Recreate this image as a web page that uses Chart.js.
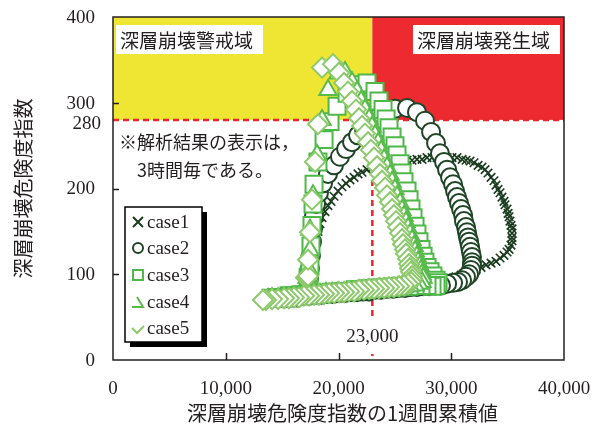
<!DOCTYPE html>
<html lang="ja">
<head>
<meta charset="utf-8">
<title>深層崩壊危険度指数</title>
<script src="https://cdn.jsdelivr.net/npm/chart.js@4.4.1/dist/chart.umd.min.js"></script>
<style>
  html, body { margin: 0; padding: 0; background: #fff; }
  #chart { display: block; }
</style>
</head>
<body>
<canvas id="chart" width="598" height="432"></canvas>
<script>
// 3-hourly results: x = 1-week cumulative of the index, y = index
var case1X = [17300, 17390, 17470, 17650, 17830, 18010, 18180, 18360, 18540, 18800,
    19070, 19340, 19600, 19960, 20310, 20670, 21020, 21380, 21730, 22090,
    22530, 22970, 23420, 23860, 24300, 24750, 25190, 25630, 26080, 26520,
    26960, 27410, 27850, 28300, 28740, 29180, 29630, 30070, 30510, 30960,
    31310, 31670, 32020, 32380, 32730, 33000, 33260, 33530, 33790, 33970,
    34150, 34330, 34500, 34680, 34770, 34950, 35040, 35130, 35210, 35300,
    35390, 35390, 35390, 35390, 35300, 35130, 34950, 34680, 34330, 33970,
    33530, 33090, 32640, 32200, 31750, 31310, 30870, 30420, 29980, 29540,
    29090, 28650, 28210, 27760, 27230, 26700, 26170, 25630, 25100, 24570,
    24040, 23510, 22970, 22440, 21910, 21380, 20840, 20310, 19780, 19250,
    18720, 18180, 17650, 17120, 16590, 16050, 15520];
var case1Y = [93, 94, 107, 122, 134, 142, 150, 159, 166, 173,
    180, 185, 191, 197, 202, 206, 210, 213, 217, 219,
    222, 224, 226, 227, 229, 230, 231, 232, 233, 233,
    234, 234, 236, 236, 236, 236, 236, 236, 236, 234,
    233, 232, 230, 227, 225, 222, 218, 213, 209, 204,
    199, 195, 190, 185, 181, 176, 171, 167, 162, 157,
    153, 148, 143, 139, 134, 129, 126, 122, 119, 115,
    113, 111, 108, 106, 104, 101, 99, 97, 94, 93,
    92, 91, 90, 89, 87, 86, 86, 85, 85, 84,
    84, 83, 83, 82, 82, 80, 80, 79, 79, 78,
    78, 77, 77, 76, 76, 75, 75];

var case2X = [17300, 17390, 17470, 17560, 17650, 17740, 17830, 18010, 18270, 18630,
    19070, 19600, 20130, 20670, 21200, 21730, 22260, 22800, 23420, 24130,
    25010, 26080, 26960, 27670, 28210, 28650, 29000, 29360, 29630,
    29890, 30160, 30340, 30510, 30690, 30870, 31050, 31130, 31310, 31400,
    31490, 31580, 31670, 31750, 31840, 31840, 31840, 31750, 31580, 31310,
    30960, 30600, 30160, 29630, 29090, 28560, 28030, 27500, 26960, 26430,
    25900, 25370, 24840, 24300, 23770, 23240, 22710, 22180, 21640, 21110,
    20580, 20050, 19510, 18980, 18450, 17920, 17390, 16850, 16320, 15790,
    15260, 14720];
var case2Y = [94, 96, 107, 122, 138, 153, 168, 182, 195, 206,
    217, 227, 237, 246, 254, 262, 269, 276, 282, 288,
    293, 294, 289, 279, 266, 253, 241, 231, 222,
    213, 205, 197, 190, 183, 176, 169, 162, 155, 149,
    143, 138, 132, 126, 120, 114, 110, 105, 100, 97,
    93, 91, 90, 89, 87, 87, 86, 86, 85, 85,
    84, 84, 83, 83, 82, 82, 80, 80, 79, 79,
    78, 78, 77, 77, 76, 76, 75, 75, 73, 73,
    72, 72];

var case3X = [17300, 17390,
    17470, 17560, 17650, 17740, 17830, 18180, 18720, 19250, 19870, 20760, 21730, 22530,
    23240, 23590, 23950, 24220, 24480, 24750, 25010, 25190, 25460, 25630,
    25810, 26080, 26260, 26430, 26610, 26790, 26960, 27140, 27320, 27500,
    27670, 27850, 28120, 28380, 28650, 28830, 28650, 28300,
    27850, 27320, 26790, 26260, 25720, 25190, 24660, 24130, 23590, 23060,
    22530, 22000, 21470, 20930, 20400, 19870, 19340, 18800, 18270, 17740,
    17210, 16680, 16140, 15610, 15080, 14550, 14010];
var case3Y = [96, 98,
    110, 133, 157, 182, 205, 231, 257, 278, 296, 311, 321, 323,
    313, 302, 292, 281, 271, 260, 250, 239, 229, 218,
    208, 197, 187, 176, 166, 156, 147, 138, 129, 121,
    114, 108, 103, 98, 93, 90, 87, 86,
    87, 87, 87, 86, 86, 85, 85, 84, 84, 83,
    83, 82, 82, 80, 80, 79, 79, 78, 77, 77,
    76, 76, 75, 75, 73, 73, 72];

var case4X = [17210, 17300,
    17390, 17470, 17470, 17740, 18100, 18540, 19070, 19960, 20580,
    21200, 21640, 22000, 22350, 22710, 22970, 23240, 23510, 23770, 24040,
    24300, 24570, 24750, 25010, 25190, 25460, 25630, 25810, 25990, 26170,
    26340, 26520, 26700, 26790, 26960, 27050, 27230, 27320, 27410, 27500,
    27410, 27140, 26790,
    26340, 25810, 25280, 24750, 24220, 23680, 23150, 22620, 22090, 21550,
    21020, 20490, 19960, 19430, 18890, 18360, 17830, 17300, 16760, 16230,
    15700, 15170, 14640, 14100, 13750];
var case4Y = [96, 97,
    105, 128, 152, 192, 239, 280, 315, 334, 336,
    324, 313, 302, 292, 281, 272, 262, 253, 244, 234,
    225, 216, 208, 199, 191, 183, 175, 168, 161, 154,
    147, 140, 133, 127, 121, 115, 110, 105, 100, 96,
    91, 89, 87,
    86, 85, 85, 84, 83, 83, 82, 82, 81, 80,
    80, 79, 79, 78, 78, 77, 76, 76, 74, 74,
    73, 73, 72, 72, 71];

var case5X = [17120, 17210, 17300,
    17300, 17470, 17650, 17920, 18180, 18540, 19510,
    20050, 20490, 20840, 21200, 21550, 21820, 22090, 22350, 22620, 22880,
    23150, 23420, 23680, 23860, 24130, 24300, 24570, 24750, 24920, 25100,
    25280, 25460, 25630, 25720, 25900, 25990, 26170, 26260, 26340, 26430,
    26520, 26520, 26430, 26170, 25810,
    25370, 24920, 24480, 24040, 23590, 23150, 22710, 22260, 21820, 21380,
    20930, 20490, 20050, 19600, 19160, 18720, 18270, 17830, 17390, 16940,
    16500, 16050, 15610, 15170, 14640, 14100, 13570, 13300];
var case5Y = [96, 97, 98,
    117, 149, 187, 231, 275, 341, 345,
    335, 323, 313, 302, 292, 282, 273, 264, 254, 245,
    236, 226, 217, 209, 201, 192, 184, 176, 169, 162,
    155, 148, 141, 135, 129, 124, 118, 112, 107, 103,
    98, 94, 91, 89, 87,
    86, 85, 85, 84, 84, 83, 83, 82, 82, 80,
    80, 79, 79, 78, 78, 77, 76, 76, 75, 75,
    73, 73, 72, 72, 71, 71, 70, 70];

var caseNames = ['case1', 'case2', 'case3', 'case4', 'case5'];
var xTicks = [0, 10000, 20000, 30000, 40000];
var yTicks = [0, 100, 200, 300, 400];
var indexLimit = 280;
var cumulativeLimit = 23000;

var INK = '#231f20';
var SERIF = 'Liberation Serif';
var GOTHIC = 'Noto Sans CJK JP';
var caseColors = ['#1b3b1f', '#1f4426', '#4db848', '#58bb4c', '#8cc96b'];

function toPoints(xs, ys) {
    var pts = [];
    for (var i = 0; i < xs.length; i++) {
        pts.push({ x: xs[i], y: ys[i] });
    }
    return pts;
}

function labelBox(ctx, text, x, y, w, h) {
    ctx.fillStyle = '#fff';
    ctx.fillRect(x, y, w, h);
    ctx.fillStyle = INK;
    ctx.font = '19px "' + GOTHIC + '"';
    ctx.textAlign = 'left';
    ctx.textBaseline = 'middle';
    ctx.fillText(text, x + 4, y + h / 2 + 1);
}

function drawLegend(ctx) {
    var bx = 125, by = 207, bw = 77, bh = 135;
    ctx.fillStyle = '#000';
    ctx.fillRect(bx + 5, by + 5, bw, bh);
    ctx.fillStyle = '#fff';
    ctx.fillRect(bx, by, bw, bh);
    ctx.strokeStyle = '#000';
    ctx.lineWidth = 1.5;
    ctx.strokeRect(bx, by, bw, bh);

    var rows = [222, 248, 275, 302, 328];
    var mx = 138;
    for (var i = 0; i < caseNames.length; i++) {
        var my = rows[i];
        ctx.strokeStyle = caseColors[i];
        ctx.fillStyle = '#fff';
        ctx.lineWidth = 2;
        ctx.setLineDash([]);
        if (i === 0) {
            Chart.helpers.drawPoint(ctx, { pointStyle: 'crossRot', radius: 7, borderWidth: 2, rotation: 0 }, mx, my);
        } else if (i === 1) {
            Chart.helpers.drawPoint(ctx, { pointStyle: 'circle', radius: 5, borderWidth: 2, rotation: 0 }, mx, my);
        } else if (i === 2) {
            Chart.helpers.drawPoint(ctx, { pointStyle: 'rect', radius: 7, borderWidth: 2, rotation: 0 }, mx, my);
        } else if (i === 3) {
            // only the right edge and base of the triangle show in the key
            ctx.beginPath();
            ctx.moveTo(mx - 1, my - 5);
            ctx.lineTo(mx + 5, my + 5);
            ctx.lineTo(mx - 6, my + 5);
            ctx.stroke();
        } else {
            ctx.beginPath();
            ctx.moveTo(mx - 6, my);
            ctx.lineTo(mx - 1, my + 5);
            ctx.lineTo(mx + 6, my - 2);
            ctx.stroke();
        }
        ctx.fillStyle = INK;
        ctx.font = '19px "' + SERIF + '"';
        ctx.textAlign = 'left';
        ctx.textBaseline = 'middle';
        ctx.fillText(caseNames[i], 147, my + 1);
    }
}

var zonePlugin = {
    id: 'zones',
    beforeDatasetsDraw: function (chart) {
        var ctx = chart.ctx;
        var a = chart.chartArea;
        var xl = chart.scales.x.getPixelForValue(cumulativeLimit);
        var yl = chart.scales.y.getPixelForValue(indexLimit);
        ctx.save();
        ctx.fillStyle = '#efe533';
        ctx.fillRect(a.left, a.top, xl - a.left, yl - a.top);
        ctx.fillStyle = '#ec2a2f';
        ctx.fillRect(xl, a.top, a.right - xl, yl - a.top);

        ctx.strokeStyle = '#e8262c';
        ctx.lineWidth = 2.5;
        ctx.setLineDash([6, 4]);
        ctx.beginPath();
        ctx.moveTo(a.left, yl);
        ctx.lineTo(a.right, yl);
        ctx.moveTo(xl, yl);
        ctx.lineTo(xl, a.bottom);
        ctx.stroke();
        ctx.restore();
    },
    afterDatasetsDraw: function (chart) {
        var ctx = chart.ctx;
        var a = chart.chartArea;
        var sx = chart.scales.x, sy = chart.scales.y;
        var xl = sx.getPixelForValue(cumulativeLimit);
        var yl = sy.getPixelForValue(indexLimit);
        ctx.save();

        // frame and inward ticks
        ctx.strokeStyle = INK;
        ctx.lineWidth = 1.5;
        ctx.strokeRect(a.left, a.top, a.right - a.left, a.bottom - a.top);
        ctx.beginPath();
        for (var i = 1; i < xTicks.length - 1; i++) {
            var px = Math.round(sx.getPixelForValue(xTicks[i])) + 0.5;
            ctx.moveTo(px, a.bottom);
            ctx.lineTo(px, a.bottom - 7);
        }
        for (var j = 1; j < yTicks.length - 1; j++) {
            var py = Math.round(sy.getPixelForValue(yTicks[j])) + 0.5;
            ctx.moveTo(a.left, py);
            ctx.lineTo(a.left + 6, py);
        }
        ctx.stroke();

        // tick labels
        ctx.fillStyle = INK;
        ctx.font = '19px "' + SERIF + '"';
        ctx.textBaseline = 'middle';
        ctx.textAlign = 'center';
        xTicks.forEach(function (v) {
            ctx.fillText(v.toLocaleString('en-US'), sx.getPixelForValue(v), a.bottom + 29);
        });
        ctx.textAlign = 'right';
        yTicks.forEach(function (v) {
            ctx.fillText(String(v), a.left - 18, sy.getPixelForValue(v) + 1);
        });
        ctx.fillText(String(indexLimit), a.left - 12, yl + 4);

        labelBox(ctx, '深層崩壊警戒域', 116, 25, 147, 29);
        labelBox(ctx, '深層崩壊発生域', 413, 25, 147, 29);

        ctx.fillStyle = INK;
        ctx.font = '18px "' + GOTHIC + '"';
        ctx.textAlign = 'left';
        ctx.textBaseline = 'middle';
        ctx.fillText('※解析結果の表示は，', 119, 142);
        ctx.fillText('3時間毎である。', 137, 170);

        // value of the cumulative threshold, over the dashed line
        ctx.fillStyle = '#fff';
        ctx.fillRect(xl - 27, 320, 54, 34);
        ctx.fillStyle = INK;
        ctx.font = '19px "' + SERIF + '"';
        ctx.textAlign = 'center';
        ctx.fillText(cumulativeLimit.toLocaleString('en-US'), xl, 337);

        // axis titles
        ctx.font = '20px "' + GOTHIC + '"';
        ctx.textAlign = 'center';
        ctx.fillText('深層崩壊危険度指数の1週間累積値', (a.left + a.right) / 2 + 4, 413);
        ctx.save();
        ctx.translate(23, (a.top + a.bottom) / 2);
        ctx.rotate(-Math.PI / 2);
        ctx.fillText('深層崩壊危険度指数', 0, 0);
        ctx.restore();

        drawLegend(ctx);
        ctx.restore();
    }
};

var ctx = document.getElementById('chart').getContext('2d');

new Chart(ctx, {
    type: 'scatter',
    data: {
        datasets: [
            {
                label: caseNames[0],
                data: toPoints(case1X, case1Y),
                pointStyle: 'crossRot',
                pointRadius: 6,
                pointBorderWidth: 1.6,
                borderColor: caseColors[0],
                backgroundColor: caseColors[0],
                order: 5
            },
            {
                label: caseNames[1],
                data: toPoints(case2X, case2Y),
                pointStyle: 'circle',
                pointRadius: 9,
                pointBorderWidth: 2,
                borderColor: caseColors[1],
                backgroundColor: '#fff',
                order: 4
            },
            {
                label: caseNames[2],
                data: toPoints(case3X, case3Y),
                pointStyle: 'rect',
                pointRadius: 12,
                pointBorderWidth: 2,
                borderColor: caseColors[2],
                backgroundColor: '#fff',
                order: 3
            },
            {
                label: caseNames[3],
                data: toPoints(case4X, case4Y),
                pointStyle: 'triangle',
                pointRadius: 10,
                pointBorderWidth: 2,
                borderColor: caseColors[3],
                backgroundColor: '#fff',
                order: 2
            },
            {
                label: caseNames[4],
                data: toPoints(case5X, case5Y),
                pointStyle: 'rectRot',
                pointRadius: 10,
                pointBorderWidth: 2,
                borderColor: caseColors[4],
                backgroundColor: '#fff',
                order: 1
            }
        ]
    },
    options: {
        responsive: false,
        animation: false,
        devicePixelRatio: 1,
        layout: {
            padding: { top: 17, right: 34, bottom: 0, left: 0 }
        },
        plugins: {
            legend: { display: false },
            tooltip: { enabled: false }
        },
        scales: {
            x: {
                type: 'linear',
                min: 0,
                max: 40000,
                afterFit: function (scale) {
                    scale.height = 72;
                },
                grid: { display: false, drawTicks: false },
                border: { display: false },
                ticks: { display: false }
            },
            y: {
                type: 'linear',
                min: 0,
                max: 400,
                afterFit: function (scale) {
                    scale.width = 113;
                },
                grid: { display: false, drawTicks: false },
                border: { display: false },
                ticks: { display: false }
            }
        }
    },
    plugins: [zonePlugin]
});
</script>
</body>
</html>
